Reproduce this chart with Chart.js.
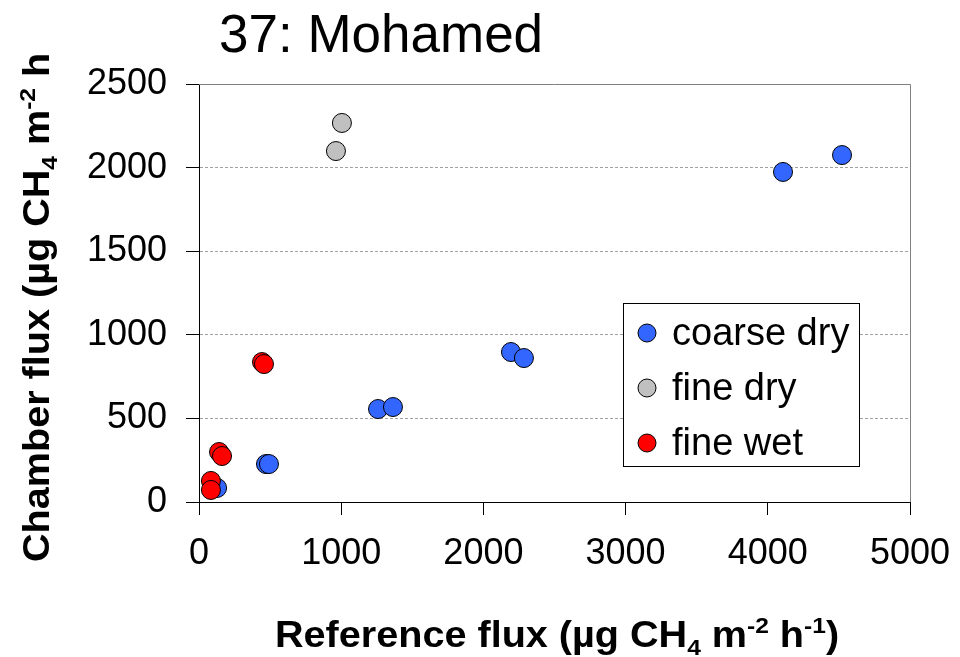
<!DOCTYPE html>
<html>
<head>
<meta charset="utf-8">
<script src="https://cdn.jsdelivr.net/npm/chart.js@4.4.1/dist/chart.umd.min.js"></script>
<style>
  html,body{margin:0;padding:0;background:#fff;}
  #wrap{width:960px;height:657px;position:relative;}
</style>
</head>
<body>
<div id="wrap"><canvas id="chart" width="960" height="657"></canvas></div>
<script>
// valores
const chartTitle = '37: Mohamed';
const seriesNames = ['coarse dry', 'fine dry', 'fine wet'];
const coarseDryX = [127, 471, 492, 1259, 1364, 2194, 2285, 4107, 4522];
const coarseDryY = [84, 227, 227, 556, 568, 897, 861, 1974, 2075];
const fineDryX = [963, 1005];
const fineDryY = [2099, 2267];
const fineWetX = [84, 84, 141, 162, 443, 457];
const fineWetY = [126, 72, 299, 275, 837, 825];
const xTicks = [0, 1000, 2000, 3000, 4000, 5000];
const yTicks = [0, 500, 1000, 1500, 2000, 2500];

const FONT = "'Liberation Sans', Arial, sans-serif";

function pts(xs, ys){ return xs.map((x,i)=>({x:x, y:ys[i]})); }

// desenha texto com sub/sobrescrito (levemente esticado na horizontal)
function drawRich(ctx, parts, size, stretch){
    ctx.save();
    ctx.scale(stretch, 1);
    let cx = 0;
    parts.forEach(p=>{
        const s = p.small ? size*0.62 : size;
        ctx.font = 'bold ' + s + 'px ' + FONT;
        const dy = p.sub ? size*0.22 : (p.sup ? -size*0.38 : 0);
        ctx.fillText(p.t, cx, dy);
        cx += ctx.measureText(p.t).width;
    });
    ctx.restore();
}

const overlay = {
    id:'overlay',
    afterDraw(chart){
        const ctx = chart.ctx, a = chart.chartArea;
        ctx.save();
        // borda superior e direita
        ctx.strokeStyle = '#808080';
        ctx.lineWidth = 1;
        ctx.beginPath();
        ctx.moveTo(a.left, a.top+0.5); ctx.lineTo(a.right+0.5, a.top+0.5); ctx.lineTo(a.right+0.5, a.bottom);
        ctx.stroke();

        // título
        ctx.fillStyle = '#000';
        ctx.textBaseline = 'alphabetic';
        ctx.textAlign = 'left';
        ctx.font = '53px ' + FONT;
        ctx.fillText(chartTitle, 219, 52);

        // título do eixo x
        const xParts = [{t:'Reference flux ('},{t:'\u00b5'},{t:'g CH'},{t:'4',small:1,sub:1},{t:' m'},{t:'-2',small:1,sup:1},{t:' h'},{t:'-1',small:1,sup:1},{t:')'}];
        ctx.save();
        ctx.translate(275, 647);
        drawRich(ctx, xParts, 37, 1.07);
        ctx.restore();

        // título do eixo y (cortado como no original)
        ctx.save();
        ctx.translate(49, 562);
        ctx.rotate(-Math.PI/2);
        const yParts = [{t:'Chamber flux ('},{t:'\u00b5'},{t:'g CH'},{t:'4',small:1,sub:1},{t:' m'},{t:'-2',small:1,sup:1},{t:' h'}];
        drawRich(ctx, yParts, 37, 1.07);
        ctx.restore();

        // legenda
        const lx = 623, ly = 303, lw = 236, lh = 163;
        ctx.fillStyle = '#fff';
        ctx.fillRect(lx, ly, lw, lh);
        ctx.strokeStyle = '#000';
        ctx.strokeRect(lx+0.5, ly+0.5, lw, lh);
        ctx.font = '38px ' + FONT;
        ctx.textBaseline = 'alphabetic';
        chart.data.datasets.forEach((ds,i)=>{
            const cy = 333 + i*55;
            ctx.beginPath();
            ctx.arc(647, cy, 9, 0, Math.PI*2);
            ctx.fillStyle = ds.backgroundColor;
            ctx.fill();
            ctx.strokeStyle = '#000';
            ctx.stroke();
            ctx.fillStyle = '#000';
            ctx.fillText(ds.label, 672, cy + 12);
        });
        ctx.restore();
    }
};

const pointStyle = {pointRadius:9.5, pointHoverRadius:9.5, borderColor:'#000', borderWidth:1, showLine:false};

new Chart(document.getElementById('chart'), {
    type:'scatter',
    data:{datasets:[
        Object.assign({label:seriesNames[0], data:pts(coarseDryX, coarseDryY), backgroundColor:'#3366ff', order:2}, pointStyle),
        Object.assign({label:seriesNames[1], data:pts(fineDryX, fineDryY), backgroundColor:'#c0c0c0', order:1}, pointStyle),
        Object.assign({label:seriesNames[2], data:pts(fineWetX, fineWetY), backgroundColor:'#ff0000', order:0}, pointStyle)
    ]},
    options:{
        responsive:false,
        animation:false,
        layout:{padding:{top:84, right:50, left:0, bottom:0}},
        plugins:{legend:{display:false}, tooltip:{enabled:false}, title:{display:false}},
        scales:{
            x:{
                type:'linear', min:0, max:5000,
                afterBuildTicks(s){ s.ticks = xTicks.map(v=>({value:v})); },
                afterFit(s){ s.height = 155; s.paddingLeft = 0; s.paddingRight = 0; },
                border:{color:'#000', width:1},
                grid:{drawOnChartArea:false, drawTicks:true, tickLength:13, tickColor:'#000'},
                ticks:{color:'#000', font:{family:FONT, size:36}, padding:17, maxRotation:0, callback:v=>String(v)}
            },
            y:{
                type:'linear', min:0, max:2500,
                afterBuildTicks(s){ s.ticks = yTicks.map(v=>({value:v})); },
                afterFit(s){ s.width = 199; s.paddingTop = 0; s.paddingBottom = 0; },
                border:{color:'#000', width:1, dash:[3,2]},
                grid:{
                    drawTicks:true, tickLength:13, tickColor:'#000',
                    color:c=>(c.tick && (c.tick.value===0 || c.tick.value===2500)) ? 'rgba(0,0,0,0)' : '#a0a0a0'
                },
                ticks:{color:'#000', font:{family:FONT, size:36}, padding:19, callback:v=>String(v)}
            }
        }
    },
    plugins:[overlay]
});
</script>
</body>
</html>
